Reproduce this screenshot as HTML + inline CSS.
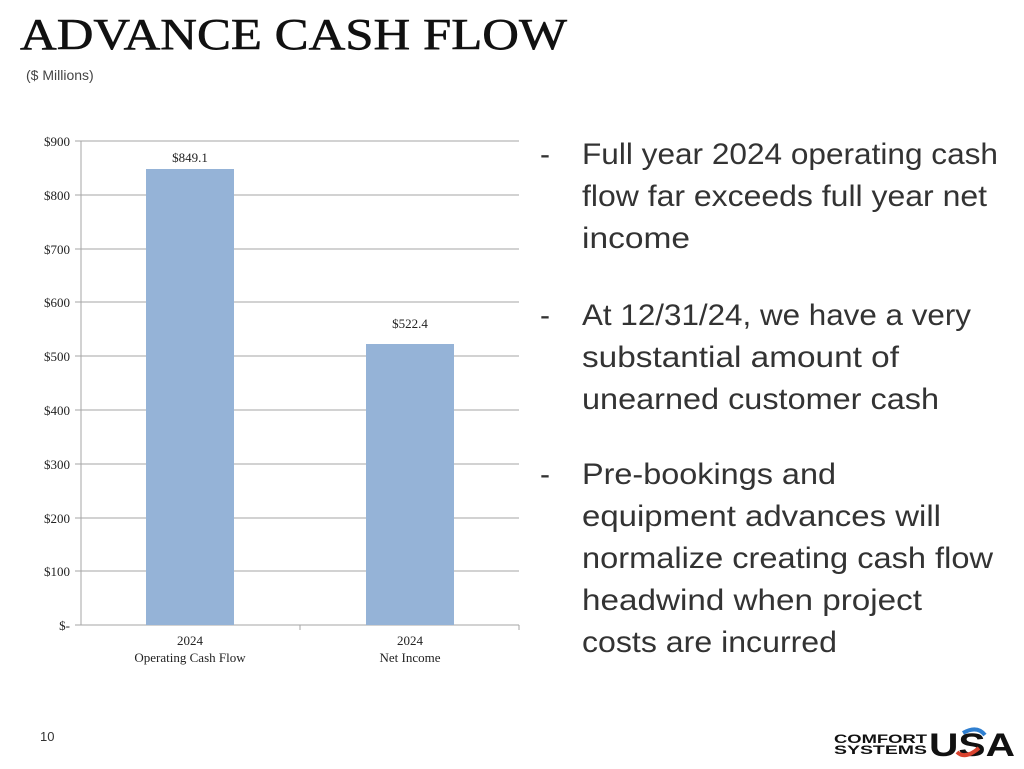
<!DOCTYPE html>
<html><head><meta charset="utf-8"><style>
html,body{margin:0;padding:0;background:#fff}
svg{display:block}
</style></head><body>
<svg width="1024" height="769" viewBox="0 0 1024 769" xmlns="http://www.w3.org/2000/svg">
<rect width="1024" height="769" fill="#fff"/>
<text x="20" y="49" font-family="Liberation Serif, serif" font-size="44" fill="#111" textLength="547" lengthAdjust="spacingAndGlyphs" stroke="#111" stroke-width="0.6">ADVANCE CASH FLOW</text>
<text x="26" y="80" font-family="Liberation Sans, sans-serif" font-size="14" fill="#444">($ Millions)</text>
<g stroke="#a6a6a6" stroke-width="1">
<line x1="75" y1="141" x2="519" y2="141"/><line x1="75" y1="195" x2="519" y2="195"/>
<line x1="75" y1="249" x2="519" y2="249"/><line x1="75" y1="302" x2="519" y2="302"/>
<line x1="75" y1="356" x2="519" y2="356"/><line x1="75" y1="410" x2="519" y2="410"/>
<line x1="75" y1="464" x2="519" y2="464"/><line x1="75" y1="518" x2="519" y2="518"/>
<line x1="75" y1="571" x2="519" y2="571"/><line x1="75" y1="625" x2="519" y2="625"/>
<line x1="81" y1="141" x2="81" y2="625"/>
<line x1="300" y1="625" x2="300" y2="630"/><line x1="519" y1="625" x2="519" y2="630"/>
</g>
<rect x="146" y="169" width="88" height="456" fill="#95b3d7"/>
<rect x="366" y="344" width="88" height="281" fill="#95b3d7"/>
<g font-family="Liberation Serif, serif" font-size="13" fill="#222" text-anchor="end">
<text x="70" y="146">$900</text><text x="70" y="200">$800</text><text x="70" y="254">$700</text>
<text x="70" y="307">$600</text><text x="70" y="361">$500</text><text x="70" y="415">$400</text>
<text x="70" y="469">$300</text><text x="70" y="523">$200</text><text x="70" y="576">$100</text>
<text x="70" y="630">$-</text>
</g>
<g font-family="Liberation Serif, serif" font-size="13" fill="#222" text-anchor="middle">
<text x="190" y="162">$849.1</text><text x="410" y="328">$522.4</text>
<text x="190" y="645">2024</text><text x="190" y="662">Operating Cash Flow</text>
<text x="410" y="645">2024</text><text x="410" y="662">Net Income</text>
</g>
<g font-family="Liberation Sans, sans-serif" font-size="30" fill="#333" lengthAdjust="spacingAndGlyphs">
<text x="540" y="164">-</text>
<text x="582" y="164" textLength="416" lengthAdjust="spacingAndGlyphs">Full year 2024 operating cash</text>
<text x="582" y="206" textLength="405" lengthAdjust="spacingAndGlyphs">flow far exceeds full year net</text>
<text x="582" y="248" textLength="108" lengthAdjust="spacingAndGlyphs">income</text>
<text x="540" y="325">-</text>
<text x="582" y="325" textLength="389" lengthAdjust="spacingAndGlyphs">At 12/31/24, we have a very</text>
<text x="582" y="367" textLength="317" lengthAdjust="spacingAndGlyphs">substantial amount of</text>
<text x="582" y="409" textLength="357" lengthAdjust="spacingAndGlyphs">unearned customer cash</text>
<text x="540" y="484">-</text>
<text x="582" y="484" textLength="254" lengthAdjust="spacingAndGlyphs">Pre-bookings and</text>
<text x="582" y="526" textLength="359" lengthAdjust="spacingAndGlyphs">equipment advances will</text>
<text x="582" y="568" textLength="411" lengthAdjust="spacingAndGlyphs">normalize creating cash flow</text>
<text x="582" y="610" textLength="340" lengthAdjust="spacingAndGlyphs">headwind when project</text>
<text x="582" y="652" textLength="255" lengthAdjust="spacingAndGlyphs">costs are incurred</text>
</g>
<text x="40" y="741" font-family="Liberation Sans, sans-serif" font-size="13" fill="#333">10</text>
<g font-family="Liberation Sans, sans-serif" font-weight="bold" fill="#111">
<text x="834" y="743" font-size="12" textLength="93" lengthAdjust="spacingAndGlyphs">COMFORT</text>
<text x="834" y="754" font-size="12" textLength="93" lengthAdjust="spacingAndGlyphs">SYSTEMS</text>
<text x="929" y="756" font-size="32" textLength="86" lengthAdjust="spacingAndGlyphs">USA</text>
</g>
<path d="M963 733 q14 -8 22 2" stroke="#2f7fd0" stroke-width="4" fill="none"/>
<path d="M957 752 q8 8 22 -4" stroke="#d9432f" stroke-width="4" fill="none"/>
</svg>
</body></html>
